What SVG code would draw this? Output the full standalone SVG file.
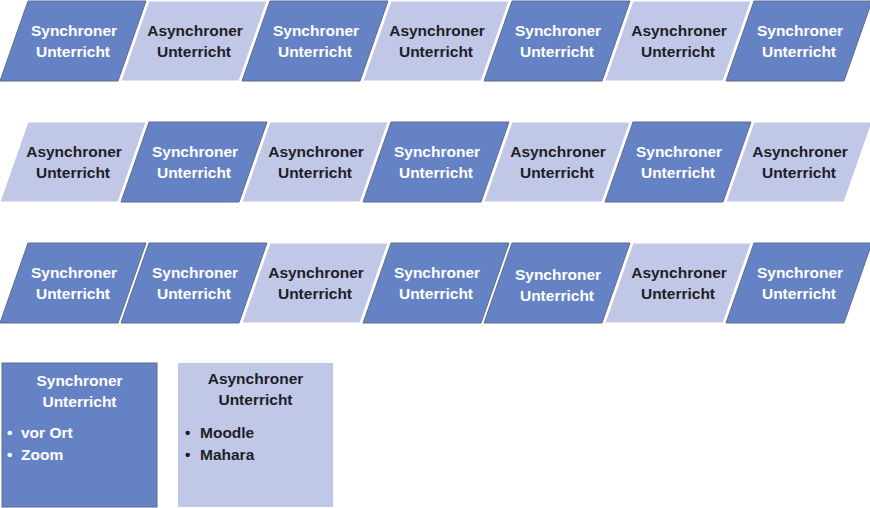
<svg xmlns="http://www.w3.org/2000/svg" width="870" height="508" viewBox="0 0 870 508">
<style>
.s{fill:#6583C4;stroke:#5F6C8A;stroke-width:1}
.a{fill:#C1C7E6;stroke:#FFFFFF;stroke-width:1}
text{font-family:"Liberation Sans",Arial,sans-serif;font-weight:bold;font-size:15.5px}
.ts{fill:#FFFFFF;text-anchor:middle}
.ta{fill:#1E1E28;text-anchor:middle}
.bs{fill:#FFFFFF}
.ba{fill:#1E1E28}
</style>
<defs>
<path id="p" d="M0,80 L28,0 L146,0 L118,80 Z"/>
</defs>
<rect width="870" height="508" fill="#FFFFFF"/>
<!-- Row 1 -->
<g id="r1n1" transform="translate(0,1)"><use href="#p" class="s"/><text class="ts" x="74" y="35">Synchroner</text><text class="ts" x="73" y="56">Unterricht</text></g>
<g id="r1n2" transform="translate(121,1)"><use href="#p" class="a"/><text class="ta" x="74" y="35">Asynchroner</text><text class="ta" x="73" y="56">Unterricht</text></g>
<g id="r1n3" transform="translate(242,1)"><use href="#p" class="s"/><text class="ts" x="74" y="35">Synchroner</text><text class="ts" x="73" y="56">Unterricht</text></g>
<g id="r1n4" transform="translate(363,1)"><use href="#p" class="a"/><text class="ta" x="74" y="35">Asynchroner</text><text class="ta" x="73" y="56">Unterricht</text></g>
<g id="r1n5" transform="translate(484,1)"><use href="#p" class="s"/><text class="ts" x="74" y="35">Synchroner</text><text class="ts" x="73" y="56">Unterricht</text></g>
<g id="r1n6" transform="translate(605,1)"><use href="#p" class="a"/><text class="ta" x="74" y="35">Asynchroner</text><text class="ta" x="73" y="56">Unterricht</text></g>
<g id="r1n7" transform="translate(726,1)"><use href="#p" class="s"/><text class="ts" x="74" y="35">Synchroner</text><text class="ts" x="73" y="56">Unterricht</text></g>
<!-- Row 2 -->
<g id="r2n1" transform="translate(0,122)"><use href="#p" class="a"/><text class="ta" x="74" y="35">Asynchroner</text><text class="ta" x="73" y="56">Unterricht</text></g>
<g id="r2n2" transform="translate(121,122)"><use href="#p" class="s"/><text class="ts" x="74" y="35">Synchroner</text><text class="ts" x="73" y="56">Unterricht</text></g>
<g id="r2n3" transform="translate(242,122)"><use href="#p" class="a"/><text class="ta" x="74" y="35">Asynchroner</text><text class="ta" x="73" y="56">Unterricht</text></g>
<g id="r2n4" transform="translate(363,122)"><use href="#p" class="s"/><text class="ts" x="74" y="35">Synchroner</text><text class="ts" x="73" y="56">Unterricht</text></g>
<g id="r2n5" transform="translate(484,122)"><use href="#p" class="a"/><text class="ta" x="74" y="35">Asynchroner</text><text class="ta" x="73" y="56">Unterricht</text></g>
<g id="r2n6" transform="translate(605,122)"><use href="#p" class="s"/><text class="ts" x="74" y="35">Synchroner</text><text class="ts" x="73" y="56">Unterricht</text></g>
<g id="r2n7" transform="translate(726,122)"><use href="#p" class="a"/><text class="ta" x="74" y="35">Asynchroner</text><text class="ta" x="73" y="56">Unterricht</text></g>
<!-- Row 3 -->
<g id="r3n1" transform="translate(0,243)"><use href="#p" class="s"/><text class="ts" x="74" y="35">Synchroner</text><text class="ts" x="73" y="56">Unterricht</text></g>
<g id="r3n2" transform="translate(121,243)"><use href="#p" class="s"/><text class="ts" x="74" y="35">Synchroner</text><text class="ts" x="73" y="56">Unterricht</text></g>
<g id="r3n3" transform="translate(242,243)"><use href="#p" class="a"/><text class="ta" x="74" y="35">Asynchroner</text><text class="ta" x="73" y="56">Unterricht</text></g>
<g id="r3n4" transform="translate(363,243)"><use href="#p" class="s"/><text class="ts" x="74" y="35">Synchroner</text><text class="ts" x="73" y="56">Unterricht</text></g>
<g id="r3n5" transform="translate(484,243)"><use href="#p" class="s"/><text class="ts" x="74" y="37">Synchroner</text><text class="ts" x="73" y="58">Unterricht</text></g>
<g id="r3n6" transform="translate(605,243)"><use href="#p" class="a"/><text class="ta" x="74" y="35">Asynchroner</text><text class="ta" x="73" y="56">Unterricht</text></g>
<g id="r3n7" transform="translate(726,243)"><use href="#p" class="s"/><text class="ts" x="74" y="35">Synchroner</text><text class="ts" x="73" y="56">Unterricht</text></g>
<!-- Legend -->
<g id="legendSync">
<rect x="2" y="363" width="155" height="144" class="s"/>
<text class="ts" x="79.5" y="386">Synchroner</text>
<text class="ts" x="79.5" y="407">Unterricht</text>
<text class="bs" x="7" y="438">•</text><text class="bs" x="21" y="438">vor Ort</text>
<text class="bs" x="7" y="460">•</text><text class="bs" x="21" y="460">Zoom</text>
</g>
<g id="legendAsync">
<rect x="178" y="363" width="155" height="144" fill="#C1C7E6"/>
<text class="ta" x="255.5" y="384">Asynchroner</text>
<text class="ta" x="255.5" y="405">Unterricht</text>
<text class="ba" x="185" y="438">•</text><text class="ba" x="200" y="438">Moodle</text>
<text class="ba" x="185" y="460">•</text><text class="ba" x="200" y="460">Mahara</text>
</g>
<g id="connectors"/>
</svg>
